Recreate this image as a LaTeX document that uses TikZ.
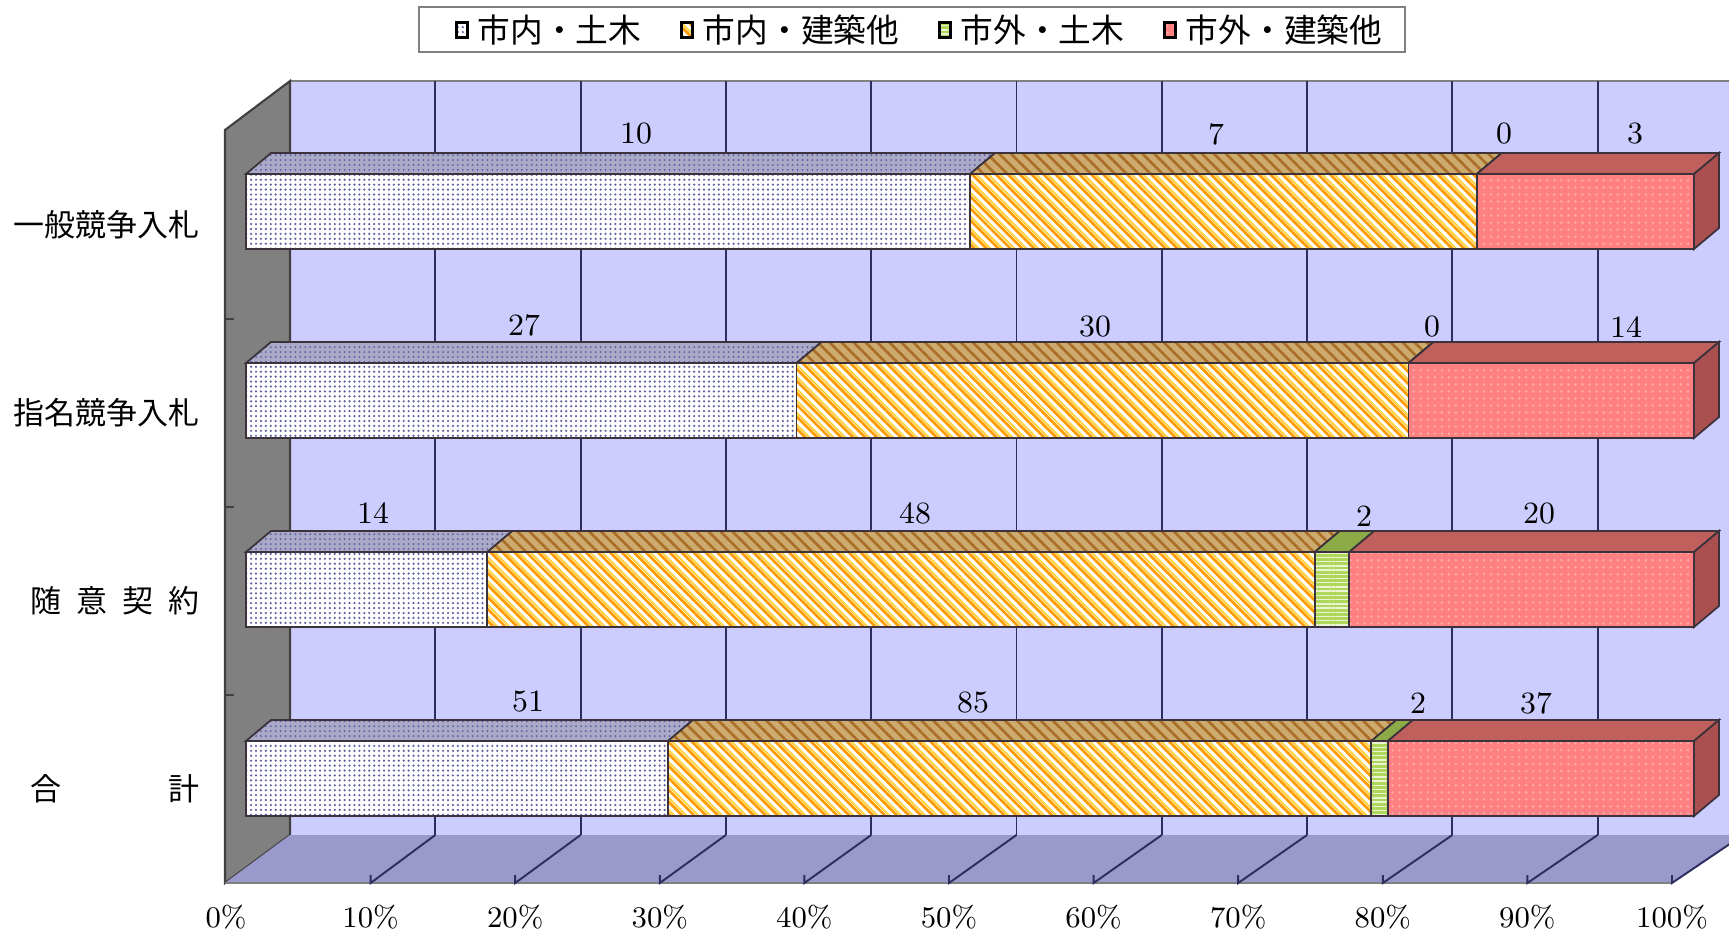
\documentclass[tikz,border=0pt]{standalone}
\usepackage{fontspec}
\usepackage{xcolor}
\usepackage{tikz}
\usetikzlibrary{positioning, patterns.meta}
\newfontfamily\jp{Noto Sans CJK JP}

\definecolor{wallback}{RGB}{204,204,255}
\definecolor{wallside}{RGB}{128,128,128}
\definecolor{wallfloor}{RGB}{153,153,204}
\definecolor{gridnavy}{RGB}{45,45,95}
\definecolor{edgedark}{RGB}{60,50,60}
\definecolor{sonedot}{RGB}{95,95,165}
\definecolor{sonetop}{RGB}{170,170,200}
\definecolor{stwoorange}{RGB}{255,153,0}
\definecolor{stwoyellow}{RGB}{255,210,60}
\definecolor{stwotop}{RGB}{205,170,110}
\definecolor{stwotopline}{RGB}{170,110,40}
\definecolor{sthree}{RGB}{175,215,90}
\definecolor{sthreetop}{RGB}{140,170,70}
\definecolor{sfour}{RGB}{255,128,128}
\definecolor{sfourdot}{RGB}{255,170,170}
\definecolor{sfourtop}{RGB}{192,96,92}
\definecolor{sfourside}{RGB}{170,80,80}

\begin{document}
\begin{tikzpicture}[
    x=0.01cm, y=-0.01cm,
    catlabel/.style={anchor=east, inner sep=0pt, font=\jp\fontsize{8.8}{10}\selectfont},
    vallabel/.style={inner sep=0pt, font=\fontsize{8.8}{10}\selectfont},
    pctlabel/.style={inner sep=0pt, font=\fontsize{8.5}{10}\selectfont},
    legtext/.style={inner sep=0pt, font=\jp\fontsize{9.3}{11}\selectfont},
    legmark/.style={minimum width=0.11cm, minimum height=0.15cm, inner sep=0pt, line width=0.9pt, draw=black},
    gridline/.style={draw=gridnavy, line width=0.55pt},
    sonefront/.style={preaction={fill=white}, preaction={pattern={Dots[distance=1.4pt,radius=0.35pt]}, pattern color=sonedot}, draw=edgedark, line width=0.5pt},
    sonetopface/.style={preaction={fill=sonetop}, preaction={pattern={Dots[distance=1.4pt,radius=0.3pt]}, pattern color=sonedot}, draw=edgedark, line width=0.5pt},
    stwofront/.style={preaction={fill=white}, preaction={pattern={Lines[angle=-45,distance=2.4pt,line width=0.75pt]}, pattern color=stwoorange}, preaction={pattern={Lines[angle=-45,distance=2.4pt,line width=0.55pt,xshift=1.15pt]}, pattern color=stwoyellow}, draw=edgedark, line width=0.5pt},
    stwotopface/.style={preaction={fill=stwotop}, preaction={pattern={Lines[angle=-45,distance=2.4pt,line width=0.75pt]}, pattern color=stwotopline}, draw=edgedark, line width=0.5pt},
    sthreefront/.style={preaction={fill=sthree}, preaction={pattern={Lines[distance=1.2pt,line width=0.4pt]}, pattern color=white!75!sthree}, draw=edgedark, line width=0.5pt},
    sthreetopface/.style={fill=sthreetop, draw=edgedark, line width=0.5pt},
    sfourfront/.style={preaction={fill=sfour}, preaction={pattern={Dots[distance=2pt,radius=0.4pt]}, pattern color=sfourdot}, draw=edgedark, line width=0.5pt},
    sfourtopface/.style={fill=sfourtop, draw=edgedark, line width=0.5pt},
    sfoursideface/.style={fill=sfourside, draw=edgedark, line width=0.5pt}
]
\useasboundingbox (0,0) rectangle (1729,933);
\clip (0,0) rectangle (1729,933);

\fill[wallback] (290,81) rectangle (1743,835);
\draw[gray, line width=0.6pt] (290,81) -- (1743,81);
\filldraw[fill=wallside, draw=black!75, line width=0.6pt] (225,130) -- (290,81) -- (290,835) -- (225,883) -- cycle;
\fill[wallfloor] (225,883) -- (290,835) -- (1743,835) -- (1672,883) -- cycle;
\draw[gray, line width=0.7pt] (225,883) -- (1672,883);
\foreach \t in {319,507,695}
    \draw[black!75, line width=0.5pt] (225,\t) -- ++(9,0);
\foreach \k in {1,...,9}
    \draw[gridline] (290+145.3*\k,81) -- (290+145.3*\k,835);
\foreach \k in {1,...,10}
    \draw[gridline] (290+145.3*\k,835) -- (226+144.6*\k,883) -- ++(0,-8);

\foreach \y/\a/\b/\c in {174/970/1476.8/1476.8, 363/796.6/1408.5/1408.5, 552/487.3/1314.7/1349.2, 741/668/1371.3/1387.9}{
    \draw[sonetopface] (246,\y) -- (271,\y-21) -- (\a+25,\y-21) -- (\a,\y) -- cycle;
    \draw[sonefront] (246,\y) rectangle (\a,\y+75);
    \draw[stwotopface] (\a,\y) -- (\a+25,\y-21) -- (\b+25,\y-21) -- (\b,\y) -- cycle;
    \draw[stwofront] (\a,\y) rectangle (\b,\y+75);
    \draw[sthreetopface] (\b,\y) -- (\b+25,\y-21) -- (\c+25,\y-21) -- (\c,\y) -- cycle;
    \draw[sthreefront] (\b,\y) rectangle (\c,\y+75);
    \draw[sfourtopface] (\c,\y) -- (\c+25,\y-21) -- (1719,\y-21) -- (1694,\y) -- cycle;
    \draw[sfourfront] (\c,\y) rectangle (1694,\y+75);
    \draw[sfoursideface] (1694,\y) -- (1719,\y-21) -- (1719,\y+54) -- (1694,\y+75) -- cycle;
}

\foreach \x/\y/\t [count=\i] in {636/134/10, 1216/134/7, 1504/134/0, 1635/134/3,
    524/325/27, 1095/327/30, 1432/327/0, 1626/327/14,
    373/513/14, 915/513/48, 1364/516/2, 1539/514/20,
    528/702/51, 973/703/85, 1418/703/2, 1536/703/37}
    \node[vallabel] (val\i) at (\x,\y) {\t};

\foreach \k [evaluate=\k as \pc using int(10*\k)] in {0,...,10}
    \node[pctlabel] (pct\k) at (226+144.6*\k,917) {\pc\%};

\node[catlabel] (cat1) at (200,225) {一般競争入札};
\node[catlabel] (cat2) at (200,413) {指名競争入札};
\node[catlabel] (cat3) at (200,601) {\makebox[1.69cm][s]{随 意 契 約}};
\node[catlabel] (cat4) at (200,789) {\makebox[1.69cm][s]{合 計}};

\draw[gray, fill=white, line width=0.6pt] (419,7) rectangle (1405,52);
\node[sonefront, legmark] (m1) at (462,30) {};
\node[legtext, right=0.08cm of m1] (t1) {市内・土木};
\node[stwofront, legmark, right=0.38cm of t1] (m2) {};
\node[legtext, right=0.08cm of m2] (t2) {市内・建築他};
\node[sthreefront, legmark, right=0.38cm of t2] (m3) {};
\node[legtext, right=0.08cm of m3] (t3) {市外・土木};
\node[sfourfront, legmark, right=0.38cm of t3] (m4) {};
\node[legtext, right=0.08cm of m4] (t4) {市外・建築他};
\end{tikzpicture}
\end{document}
